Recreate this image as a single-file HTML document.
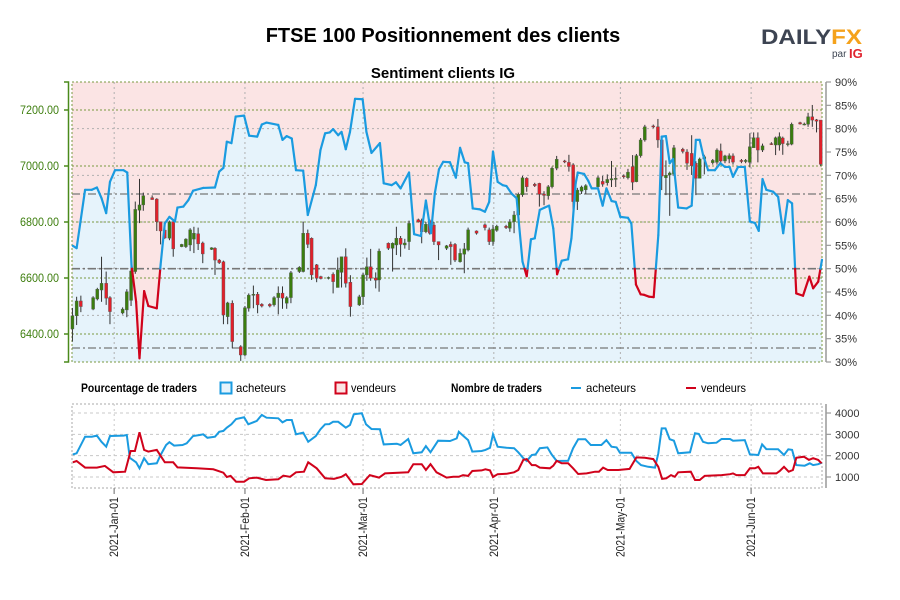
<!DOCTYPE html>
<html><head><meta charset="utf-8"><style>
html,body{margin:0;padding:0;background:#fff;}
svg{display:block;font-family:"Liberation Sans",sans-serif;}
</style></head><body>
<svg id="chart" width="900" height="600" viewBox="0 0 900 600" xmlns="http://www.w3.org/2000/svg">
<text x="443" y="42" text-anchor="middle" font-size="20" font-weight="bold" fill="#000">FTSE 100 Positionnement des clients</text>
<g>
<text x="761" y="44" font-size="21" font-weight="bold" textLength="101" lengthAdjust="spacingAndGlyphs" fill="#3d4452">DAILY<tspan fill="#f5a21b">FX</tspan></text>
<text x="832" y="57" font-size="10" fill="#3d4452">par</text>
<text x="849" y="58" font-size="13" font-weight="bold" fill="#e0232e">IG</text>
</g>
<text x="443" y="78" text-anchor="middle" font-size="15" font-weight="bold" fill="#000">Sentiment clients IG</text>
<g id="main"></g>
<g id="legend" font-size="12">
<text x="81" y="392" font-weight="bold" textLength="116" lengthAdjust="spacingAndGlyphs">Pourcentage de traders</text>
<rect x="220.5" y="382.5" width="11" height="11" fill="#e6f3fb" stroke="#1a9be0" stroke-width="2"/>
<text x="236" y="392" textLength="50" lengthAdjust="spacingAndGlyphs">acheteurs</text>
<rect x="335.5" y="382.5" width="11" height="11" fill="#fbe4e4" stroke="#d0021b" stroke-width="2"/>
<text x="351" y="392" textLength="45" lengthAdjust="spacingAndGlyphs">vendeurs</text>
<text x="451" y="392" font-weight="bold" textLength="91" lengthAdjust="spacingAndGlyphs">Nombre de traders</text>
<line x1="571" y1="388" x2="581" y2="388" stroke="#1a9be0" stroke-width="2"/>
<text x="586" y="392" textLength="50" lengthAdjust="spacingAndGlyphs">acheteurs</text>
<line x1="686" y1="388" x2="696" y2="388" stroke="#d0021b" stroke-width="2"/>
<text x="701" y="392" textLength="45" lengthAdjust="spacingAndGlyphs">vendeurs</text>
</g>
<g id="bottom"></g>
</svg>
<script>
const pctDay=[0.2,1.1,3.1,4.7,5.9,7.0,8.1,9.0,10.2,12.2,13.1,14.1,15.2,16.0,17.1,18.1,20.1,21.0,22.0,23.1,24.4,25.0,26.4,27.6,28.7,31.1,33.9,34.9,35.9,36.7,37.8,38.8,40.8,42.0,43.9,45.0,46.1,48.9,49.9,50.9,52.1,53.1,54.8,55.9,57.8,58.9,60.0,61.1,61.9,63.1,63.9,64.9,65.9,67.1,68.9,69.8,71.0,73.0,73.9,75.8,76.8,77.9,79.9,81.1,82.7,83.9,85.1,86.0,87.0,88.0,89.6,91.0,92.0,93.1,93.9,95.0,96.7,97.9,98.9,99.8,100.9,102.1,103.0,104.2,105.4,106.8,107.8,108.8,109.7,110.9,112.1,113.1,114.1,115.0,116.1,117.6,118.4,119.4,119.9,121.4,122.4,123.2,124.7,125.8,126.7,127.9,128.9,130.0,131.8,132.6,133.7,134.8,135.6,136.8,137.9,139.0,139.8,140.8,141.7,142.5,143.7,145.7,146.9,147.9,148.8,149.6,150.8,152.4,153.7,154.8,155.9,156.7,157.9,159.5,160.7,161.9,162.8,163.7,164.6,166.2,167.4,168.6,169.7,170.7,171.7,173.3,174.8,175.7,176.9,177.8];
const pctLong=[54.9,54.4,66.9,66.9,67.4,65.1,61.9,68.6,71.1,71.1,70.6,50.8,42.9,30.8,45.2,42.0,41.5,50.8,59.7,61.1,60.1,63.1,63.3,64.7,66.7,67.3,67.4,70.8,71.6,77.2,76.9,82.6,82.8,78.5,78.3,80.9,81.3,80.8,77.6,78.4,77.9,71.1,71.0,61.5,67.9,75.4,79.0,79.2,79.9,78.6,79.3,75.6,79.3,86.4,86.3,79.3,74.8,76.9,68.3,67.9,68.5,67.2,70.6,57.4,57.0,64.6,57.6,66.1,71.3,72.9,72.8,69.5,75.9,72.8,72.6,62.9,62.7,62.2,64.3,75.1,68.6,67.9,67.7,66.1,65.1,51.5,48.4,56.3,56.5,62.6,63.1,63.5,58.6,48.8,51.7,52.0,56.5,68.3,70.6,70.3,68.8,67.2,67.2,63.5,67.2,64.5,64.3,61.1,60.9,59.7,46.6,44.5,44.4,44.0,43.9,57.2,78.3,78.4,72.6,73.5,63.1,62.9,63.5,77.6,77.6,74.4,71.1,71.1,72.6,71.8,71.8,69.7,71.8,71.8,60.1,59.8,58.1,69.2,66.9,66.5,65.4,57.6,64.7,64.0,44.7,44.2,48.3,45.8,47.2,51.9];
const candleDay=[0.1,1.1,2.1,5.0,6.0,7.0,8.1,9.0,12.0,13.0,14.0,15.0,16.0,16.9,19.0,20.1,21.0,22.0,23.1,24.0,26.0,27.0,28.0,28.9,29.9,31.0,33.1,33.9,34.9,35.9,36.9,38.0,40.0,41.0,41.9,43.0,44.0,45.0,46.9,47.9,48.9,49.9,50.9,51.9,53.9,54.8,55.9,56.8,58.0,59.0,60.8,61.9,63.0,63.9,64.9,66.0,68.1,69.0,69.9,70.8,72.0,72.8,75.0,76.0,76.9,77.9,78.9,79.9,82.1,82.9,83.9,84.8,85.8,86.9,88.8,89.8,90.8,92.0,93.0,93.9,95.9,97.9,98.9,99.8,100.7,102.9,103.8,104.8,105.8,106.8,107.8,109.7,110.8,111.9,112.9,113.8,114.9,116.8,117.8,118.8,119.8,120.8,121.8,124.7,125.8,126.9,127.9,128.9,130.8,131.8,132.9,133.8,134.8,135.8,137.8,138.9,139.8,140.8,141.7,142.7,144.8,145.8,146.9,147.9,148.8,149.9,151.9,152.9,153.8,154.8,155.8,156.7,158.7,159.7,160.7,161.6,162.6,163.7,165.8,166.8,167.7,168.5,169.7,170.6,172.6,173.6,174.5,175.5,176.5,177.5];
const candleOpen=[6418,6465,6518,6489,6525,6557,6581,6530,6475,6486,6520,6623,6842,6861,6887,6882,6801,6771,6742,6801,6712,6712,6718,6739,6758,6725,6702,6706,6664,6658,6462,6510,6355,6325,6492,6538,6542,6506,6506,6504,6530,6546,6510,6530,6623,6623,6760,6742,6647,6605,6600,6613,6566,6620,6676,6585,6504,6533,6611,6640,6600,6593,6724,6706,6718,6742,6718,6730,6808,6805,6765,6805,6789,6730,6706,6720,6720,6658,6685,6700,6768,6790,6772,6730,6770,6785,6778,6801,6825,6897,6956,6935,6938,6900,6894,6926,6992,7018,7013,7004,6873,6910,6915,6926,6945,6940,6950,6952,6965,6958,6998,6944,7037,7093,7143,7140,7093,6958,6968,6970,7060,7050,7045,7010,6956,7025,7012,7013,7054,7018,7025,7036,7020,7016,7013,7065,7101,7057,7080,7075,7075,7100,7078,7078,7155,7148,7149,7176,7165,7164];
const candleHigh=[6493,6533,6537,6535,6565,6676,6623,6535,6495,6560,6660,6873,6954,6905,6895,6885,6801,6780,6805,6805,6722,6742,6778,6783,6780,6730,6710,6710,6668,6662,6515,6520,6360,6500,6545,6573,6550,6510,6510,6535,6570,6570,6535,6625,6642,6801,6773,6745,6650,6608,6605,6620,6673,6676,6706,6610,6540,6618,6673,6704,6620,6705,6727,6727,6783,6750,6740,6805,6812,6812,6800,6810,6800,6730,6718,6730,6725,6705,6725,6780,6770,6795,6780,6790,6790,6790,6810,6839,6905,6965,6960,6940,6940,6910,6932,6998,7036,7022,7040,7010,6922,6930,6935,6965,6965,6970,7018,6995,6970,6990,7039,7043,7100,7147,7148,7168,7104,7020,6980,7075,7065,7060,7110,7017,7030,7040,7025,7063,7080,7040,7045,7045,7025,7025,7117,7120,7120,7080,7085,7105,7120,7105,7090,7155,7158,7155,7190,7218,7168,7164];
const candleLow=[6373,6432,6478,6485,6520,6515,6504,6435,6470,6460,6500,6615,6796,6840,6880,6768,6720,6740,6735,6676,6710,6707,6696,6689,6700,6653,6700,6611,6650,6435,6435,6349,6304,6320,6480,6492,6474,6495,6495,6498,6470,6490,6490,6510,6618,6620,6707,6593,6585,6595,6595,6545,6566,6566,6566,6462,6500,6504,6590,6590,6563,6551,6700,6623,6682,6676,6705,6700,6798,6724,6760,6755,6718,6664,6700,6647,6657,6655,6617,6695,6755,6770,6718,6715,6765,6775,6765,6760,6820,6890,6908,6925,6855,6860,6880,6920,6985,7010,6980,6843,6843,6900,6900,6920,6926,6930,6925,6925,6955,6952,6914,6942,7030,7087,7135,7065,6914,6896,6822,6965,7045,6986,6968,6896,6956,6970,7005,7005,7005,7010,7010,7005,7010,7010,6995,7065,7013,7050,7075,7039,7055,7040,7070,7074,7148,7145,7140,7140,7120,7000];
const candleClose=[6465,6518,6498,6530,6560,6581,6528,6480,6489,6551,6625,6845,6861,6894,6880,6801,6768,6743,6801,6704,6720,6739,6772,6760,6722,6686,6708,6664,6655,6468,6511,6373,6325,6494,6539,6542,6504,6500,6500,6530,6546,6528,6530,6619,6638,6760,6720,6611,6599,6598,6602,6587,6629,6676,6581,6498,6533,6611,6640,6599,6592,6696,6706,6724,6742,6720,6725,6795,6800,6765,6792,6760,6730,6718,6715,6712,6664,6688,6704,6772,6760,6780,6730,6775,6785,6780,6801,6825,6899,6958,6926,6930,6899,6895,6926,6992,7024,7015,6998,6873,6914,6925,6930,6958,6935,6952,6955,6956,6962,6978,6942,7037,7093,7140,7140,7093,6964,6967,6975,7065,7052,7010,7001,6956,7025,7033,7020,7057,7018,7036,7037,7014,7016,7020,7069,7101,7057,7072,7078,7101,7105,7080,7080,7149,7150,7150,7176,7164,7160,7006];
const buyDay=[0.2,1.1,3.1,4.7,5.9,7.0,8.1,9.0,12.2,13.0,13.7,15.2,16.0,17.1,18.1,20.1,21.0,22.3,23.1,24.2,26.2,27.2,28.7,30.3,31.1,32.1,33.9,34.9,35.9,36.7,37.8,38.9,40.8,41.8,43.8,45.0,46.1,48.9,49.9,50.9,52.1,53.1,54.8,56.0,57.8,58.9,60.0,61.0,61.9,63.1,64.9,65.9,66.8,68.7,69.7,71.0,73.0,73.9,77.0,77.9,79.7,80.9,82.9,83.9,85.0,86.8,89.6,91.2,91.7,92.7,93.9,94.9,97.1,98.0,99.1,99.8,100.9,103.0,104.8,105.8,107.0,107.8,109.0,109.9,110.9,112.7,113.7,114.9,117.6,118.8,120.0,121.7,123.0,125.5,126.7,127.9,129.1,129.9,132.6,133.8,134.9,136.6,138.2,139.0,139.8,140.7,141.7,142.7,143.7,146.5,147.7,148.6,149.6,150.8,152.8,154.0,156.0,156.7,159.5,160.7,162.7,163.6,164.6,167.4,168.8,169.8,170.7,171.7,173.7,174.9,175.7,176.9,177.7];
const buyCount=[2.06,2.11,2.89,2.89,2.94,2.65,2.42,2.92,2.94,2.97,1.90,1.69,1.41,1.88,1.60,1.64,2.03,2.50,2.63,2.47,2.50,2.58,2.92,2.97,3.00,2.84,2.89,3.12,3.16,3.31,3.47,3.72,3.80,3.47,3.63,3.91,3.78,3.75,3.56,3.67,3.67,3.00,3.08,2.65,2.92,3.24,3.47,3.48,3.59,3.59,3.31,3.44,3.94,3.99,3.47,3.25,3.24,2.53,2.56,2.50,2.78,2.11,2.16,2.45,2.16,2.70,2.69,2.81,3.12,2.94,2.73,2.19,2.22,2.27,2.37,3.00,2.42,2.37,2.35,2.16,1.88,1.75,2.03,2.06,2.35,2.39,2.06,1.75,1.76,2.35,2.77,2.77,2.50,2.50,2.73,2.42,2.39,2.14,2.14,1.75,1.56,1.48,1.44,2.11,3.28,3.28,2.77,2.70,2.11,2.16,3.05,3.02,2.65,2.58,2.61,2.78,2.78,2.70,2.73,2.06,2.03,2.53,2.31,2.30,2.03,2.30,2.27,1.56,1.53,1.64,1.56,1.60,1.67];
const sellDay=[0.2,1.1,3.1,5.9,7.8,9.8,12.6,13.9,14.9,16.0,17.1,18.1,20.1,22.0,24.0,25.0,29.6,33.5,35.9,36.7,37.6,38.9,40.8,42.0,43.8,46.0,48.9,50.1,51.7,53.1,55.0,56.0,58.0,60.0,62.1,63.9,64.9,66.7,68.7,70.6,72.8,74.2,79.7,80.9,82.9,83.9,85.0,86.4,88.8,90.4,91.7,92.7,93.9,94.9,97.1,98.0,99.1,99.8,100.9,103.0,104.8,105.8,107.0,107.8,109.0,109.9,110.9,113.3,114.1,114.9,116.1,117.6,118.8,120.0,122.0,124.0,124.9,125.9,127.0,129.5,132.2,133.8,135.8,137.8,139.0,139.9,140.9,142.0,142.9,143.7,146.7,147.7,148.8,150.0,154.0,156.0,156.7,157.5,159.5,160.7,161.9,162.7,163.8,167.0,167.8,168.8,169.9,170.9,171.7,173.5,174.7,175.7,176.9,177.7];
const sellCount=[1.69,1.75,1.44,1.44,1.52,1.22,1.25,2.22,2.22,3.10,2.27,2.19,2.27,1.69,1.69,1.45,1.41,1.36,1.20,1.00,1.05,0.78,0.78,0.94,0.97,0.86,0.89,1.06,1.01,1.22,1.25,1.69,1.41,0.94,0.91,1.01,1.13,0.66,0.67,1.09,0.97,1.17,1.22,1.60,1.60,1.33,1.60,1.22,0.97,1.01,1.01,1.09,1.05,1.28,1.31,1.36,1.31,1.00,1.13,1.15,1.22,1.33,1.80,1.84,1.56,1.56,1.44,1.41,1.53,1.76,1.64,1.64,1.41,1.14,1.17,1.25,1.25,1.44,1.33,1.33,1.38,1.92,1.90,1.84,1.48,0.91,0.94,1.09,1.01,1.22,1.25,0.86,0.86,1.05,1.09,1.13,1.17,1.09,1.09,1.41,1.41,1.48,1.17,1.17,1.28,1.48,1.25,1.33,1.90,1.95,1.80,1.88,1.80,1.64];
const priceTicks=[6400,6600,6800,7000,7200];
const pctTicks=[30,35,40,45,50,55,60,65,70,75,80,85,90];
const countTicks=[1000,2000,3000,4000];
const monthDays=[10,41,69,100,130,161];
const monthLabels=["2021-Jan-01","2021-Feb-01","2021-Mar-01","2021-Apr-01","2021-May-01","2021-Jun-01"];
const refLevels=[66,50,33];

const NS="http://www.w3.org/2000/svg";
const L=72,R=822,T=82,B=362,BT=404,BB=488;
const xS=d=>L+d*(R-L)/177.8;
const yP=p=>T+(7300-p)*(B-T)/1000;
const yPct=v=>T+(90-v)*(B-T)/60;
const yC=v=>477-(v-1000)*21.33/1000;
function mk(tag,attrs,parent){const e=document.createElementNS(NS,tag);for(const k in attrs)e.setAttribute(k,attrs[k]);parent.appendChild(e);return e;}
const main=document.getElementById('main'),bot=document.getElementById('bottom');

let bg=mk('rect',{x:L,y:T,width:R-L,height:B-T,fill:'#fbe4e4'},main);


let pts=pctDay.map((d,i)=>xS(d).toFixed(1)+','+yPct(pctLong[i]).toFixed(1));
let area=mk('polygon',{points:L+','+B+' '+pts.join(' ')+' '+R+','+B,fill:'#e6f3fb'},main);


pctTicks.forEach(p=>{if(p%10===0&&p>30&&p<90){const y=yPct(p);mk('line',{x1:L,x2:R,y1:y,y2:y,stroke:'#b0b0b0','stroke-dasharray':'2,3','stroke-width':1},main);}});
priceTicks.forEach(p=>{const y=yP(p);mk('line',{x1:L,x2:R,y1:y,y2:y,stroke:'#7a9a40','stroke-dasharray':'2,2','stroke-width':1},main);});
monthDays.forEach(d=>{const x=xS(d);mk('line',{x1:x,x2:x,y1:T,y2:B,stroke:'#b0b0b0','stroke-dasharray':'2,3'},main);});
refLevels.forEach(v=>{const y=yPct(v);let l=mk('line',{x1:L,x2:R,y1:y,y2:y,stroke:'#777','stroke-dasharray':'8,3,2,3','stroke-width':v===50?1.6:1.2},main);

});
mk('rect',{x:L,y:T,width:R-L,height:B-T,fill:'none',stroke:'#7a9a40','stroke-dasharray':'2,2'},main);
const bw=3;
candleDay.forEach((d,i)=>{const x=xS(d),o=candleOpen[i],c=candleClose[i];const up=c>=o;
let g=mk('g',{},main);


mk('line',{x1:x,x2:x,y1:yP(candleHigh[i]),y2:yP(candleLow[i]),stroke:'#333','stroke-width':1},g);
const y1=yP(Math.max(o,c)),y2=yP(Math.min(o,c));
mk('rect',{x:x-bw/2,y:y1,width:bw,height:Math.max(1,y2-y1),fill:up?'#3a7d0e':'#e0202a',stroke:'#555','stroke-width':0.4},g);});
for(let i=0;i<pctDay.length-1;i++){
 const a=pctLong[i],b=pctLong[i+1],x1=xS(pctDay[i]),x2=xS(pctDay[i+1]);
 const segs=[];
 if((a-50)*(b-50)<0){const t=(50-a)/(b-a);const xm=x1+t*(x2-x1);segs.push([x1,a,xm,50,a>=50]);segs.push([xm,50,x2,b,b>=50]);}
 else segs.push([x1,a,x2,b,(a+b)/2>=50]);
 segs.forEach(s=>{let l=mk('line',{x1:s[0],y1:yPct(s[1]),x2:s[2],y2:yPct(s[3]),stroke:s[4]?'#1a9be0':'#d0021b','stroke-width':2.2,'stroke-linecap':'round'},main);
 
 });
}
mk('path',{d:`M64,${T}H68.5V${B}H64`,fill:'none',stroke:'#4a8a1c','stroke-width':1.5},main);
priceTicks.forEach(p=>{const y=yP(p);mk('line',{x1:64,x2:68.5,y1:y,y2:y,stroke:'#4a8a1c','stroke-width':1.5},main);
let t=mk('text',{x:59,y:y+4,'text-anchor':'end','font-size':12,fill:'#3f7f10',textLength:39,lengthAdjust:'spacingAndGlyphs'},main);t.textContent=p.toFixed(2);

});
mk('line',{x1:826,x2:826,y1:T,y2:B,stroke:'#999','stroke-width':1.5},main);
pctTicks.forEach(p=>{const y=yPct(p);mk('line',{x1:826,x2:831,y1:y,y2:y,stroke:'#999','stroke-width':1.2},main);
let t=mk('text',{x:835,y:y+4,'font-size':11,fill:'#333'},main);t.textContent=p+'%';

});

mk('rect',{x:L,y:BT,width:R-L,height:BB-BT,fill:'none',stroke:'#aaa','stroke-dasharray':'2,2'},bot);
countTicks.forEach(v=>{const y=yC(v);mk('line',{x1:L,x2:R,y1:y,y2:y,stroke:'#c8c8c8','stroke-dasharray':'3,3'},bot);
mk('line',{x1:826,x2:831,y1:y,y2:y,stroke:'#999','stroke-width':1.2},bot);
let t=mk('text',{x:835,y:y+4,'font-size':11,fill:'#333'},bot);t.textContent=v;

});
mk('line',{x1:826,x2:826,y1:BT,y2:BB,stroke:'#999','stroke-width':1.5},bot);
monthDays.forEach((d,i)=>{const x=xS(d);mk('line',{x1:x,x2:x,y1:BT,y2:BB,stroke:'#c8c8c8','stroke-dasharray':'2,3'},bot);
mk('line',{x1:x,x2:x,y1:BB,y2:BB+6,stroke:'#999','stroke-width':1.5},bot);
let t=mk('text',{x:0,y:0,'text-anchor':'end','font-size':12,fill:'#222',textLength:60,lengthAdjust:'spacingAndGlyphs',transform:`translate(${x+4},${BB+9}) rotate(-90)`},bot);t.textContent=monthLabels[i];

});
let bl=mk('polyline',{points:buyDay.map((d,i)=>xS(d).toFixed(1)+','+yC(buyCount[i]*1000).toFixed(1)).join(' '),fill:'none',stroke:'#1a9be0','stroke-width':2},bot);


let sl=mk('polyline',{points:sellDay.map((d,i)=>xS(d).toFixed(1)+','+yC(sellCount[i]*1000).toFixed(1)).join(' '),fill:'none',stroke:'#d0021b','stroke-width':2},bot);


</script>
</body></html>
